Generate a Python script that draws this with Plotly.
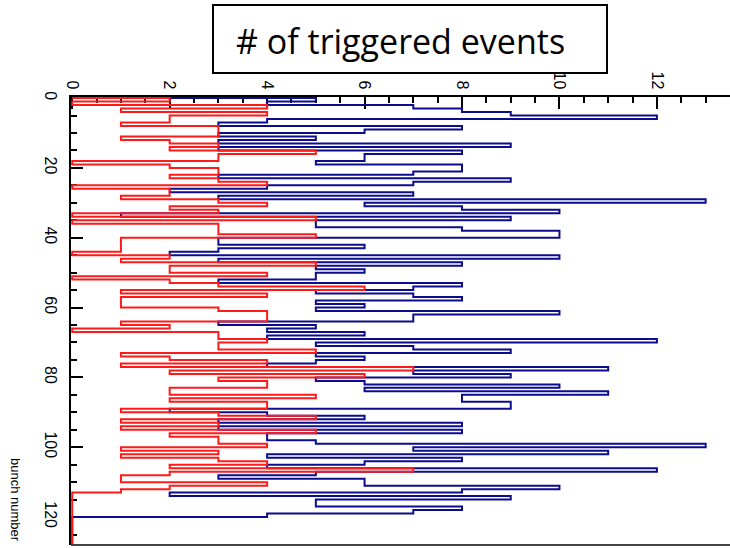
import plotly.graph_objects as go

# Triggered events per bunch (bins of one bunch each, bunch 0..127)
bunch = list(range(128))

events_blue = [
    5, 4, 7, 8, 9, 12, 4, 3, 8, 6,
    3, 5, 3, 9, 3, 8, 6, 6, 5, 8,
    8, 7, 3, 9, 7, 4, 2, 7, 3, 13,
    6, 8, 10, 1, 9, 5, 5, 8, 10, 10,
    3, 3, 6, 3, 2, 10, 3, 8, 5, 6,
    5, 5, 3, 8, 7, 5, 7, 8, 5, 6,
    5, 10, 7, 7, 3, 5, 4, 6, 4, 12,
    5, 7, 9, 5, 6, 5, 4, 11, 7, 9,
    5, 6, 10, 6, 11, 8, 8, 9, 9, 2,
    4, 6, 3, 8, 3, 8, 4, 4, 5, 13,
    7, 11, 4, 8, 6, 4, 12, 5, 3, 6,
    6, 10, 8, 2, 9, 5, 5, 8, 7, 4,
    0, 0, 0, 0, 0, 0, 0, 0,
]

events_red = [
    2, 0, 4, 1, 4, 2, 2, 1, 3, 3,
    3, 1, 2, 3, 2, 5, 3, 3, 0, 2,
    3, 3, 2, 3, 4, 0, 2, 2, 1, 3,
    4, 2, 3, 0, 5, 0, 3, 3, 3, 5,
    1, 1, 1, 1, 0, 2, 1, 5, 2, 2,
    4, 0, 2, 3, 6, 1, 4, 1, 1, 1,
    3, 4, 4, 4, 1, 2, 0, 3, 3, 4,
    3, 3, 5, 1, 2, 4, 1, 7, 2, 6,
    3, 4, 4, 2, 2, 5, 2, 4, 4, 1,
    3, 5, 1, 3, 1, 5, 2, 3, 3, 4,
    1, 3, 1, 3, 4, 2, 7, 2, 1, 1,
    4, 2, 1, 0, 0, 0, 0, 0, 0, 0,
    0, 0, 0, 0, 0, 0, 0, 0,
]

x_ticks = [0, 2, 4, 6, 8, 10, 12]
y_ticks = [0, 20, 40, 60, 80, 100, 120]

N_BINS = len(bunch)
X_MAX = 13.5

TICK_FONT = dict(family="Liberation Sans Narrow, Liberation Sans, Arial", size=16, color="black")

# plot-area geometry in pixels (used for placing the title box and labels)
W, H = 730, 548
L, R, T, B = 71, 0, 97, 3
PW, PH = W - L - R, H - T - B


def px_to_paper(px, py):
    return (px - L) / PW, (H - B - py) / PH


def step_outline(values):
    """Histogram outline running down the bunch axis: a zero start,
    one point per bin edge, and a closing point back at zero."""
    xs = [0] + list(values) + [0]
    ys = [bunch[0]] + list(bunch) + [bunch[-1] + 1]
    return xs, ys


fig = go.Figure()

for values, color in [(events_blue, "#0c0c8e"), (events_red, "#ff1a1a")]:
    xs, ys = step_outline(values)
    fig.add_trace(go.Scatter(
        x=xs, y=ys, mode="lines",
        line=dict(color=color, width=2, shape="vh"),
        hoverinfo="skip", showlegend=False,
    ))

fig.update_xaxes(
    side="top", range=[-0.025, X_MAX], tickvals=x_ticks, tickangle=90,
    ticks="inside", ticklen=12, tickwidth=2, tickcolor="black",
    minor=dict(dtick=0.5, tick0=0, ticks="inside", ticklen=6, tickwidth=2, tickcolor="black"),
    showline=True, linewidth=2, linecolor="black",
    showgrid=False, zeroline=False, tickfont=TICK_FONT, layer="below traces",
)
fig.update_yaxes(
    range=[N_BINS, -0.3], tickvals=y_ticks, tickangle=90,
    ticks="inside", ticklen=12, tickwidth=2, tickcolor="black",
    minor=dict(dtick=5, tick0=0, ticks="inside", ticklen=6, tickwidth=2, tickcolor="black"),
    showline=True, linewidth=2, linecolor="black", ticklabelstandoff=5,
    showgrid=False, zeroline=False, tickfont=TICK_FONT, layer="below traces",
)

# frame line along the bottom of the plot area
fig.add_shape(type="line", xref="paper", yref="paper", x0=0, x1=1, y0=0, y1=0,
              line=dict(color="#444444", width=2), layer="above")

# boxed title above the plot
bx0, by0 = px_to_paper(213, 73)
bx1, by1 = px_to_paper(607, 5)
fig.add_shape(type="rect", xref="paper", yref="paper", x0=bx0, x1=bx1, y0=by0, y1=by1,
              line=dict(color="black", width=2), fillcolor="rgba(0,0,0,0)", layer="above")
tx, ty = px_to_paper(400, 41)
fig.add_annotation(text="# of triggered events", xref="paper", yref="paper",
                   x=tx, y=ty, xanchor="center", yanchor="middle", showarrow=False,
                   font=dict(family="Open Sans, Lato, Liberation Sans", size=34, color="black"))

# axis title written down the left edge
ax, ay = px_to_paper(16, 500)
fig.add_annotation(text="bunch number", xref="paper", yref="paper",
                   x=ax, y=ay, xanchor="center", yanchor="middle", showarrow=False, textangle=90,
                   font=dict(family="Liberation Sans Narrow, Liberation Sans, Arial", size=13, color="black"))

fig.update_layout(
    width=W, height=H,
    margin=dict(l=L, r=R, t=T, b=B),
    paper_bgcolor="white", plot_bgcolor="white",
)

fig.write_html("out.html")
